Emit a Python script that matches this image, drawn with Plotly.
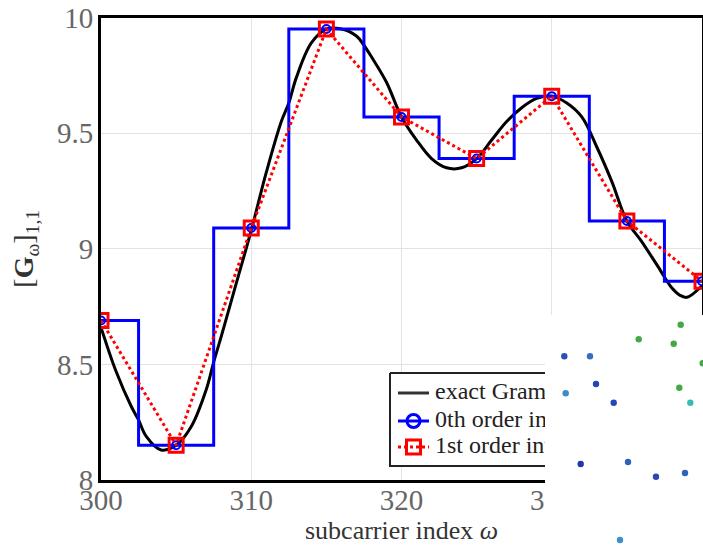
import plotly.graph_objects as go

# ---------------- data ----------------
# exact Gram matrix entry (dense reading of the smooth black curve)
exact_x = [300, 301, 302, 302.5, 303, 304, 305, 306, 307, 307.5, 308, 309, 310, 311, 312,
           312.5, 313, 314, 315, 316, 317, 317.5, 318, 319, 320, 321, 322, 323, 324, 325,
           326, 327, 328, 329, 330, 331, 332, 333, 334, 335, 336, 337, 338, 338.5, 339, 340]
exact_y = [8.66, 8.47, 8.32, 8.26, 8.19, 8.13, 8.15, 8.23, 8.39, 8.51, 8.62, 8.85, 9.08, 9.33, 9.55,
           9.63, 9.74, 9.89, 9.95, 9.95, 9.92, 9.88, 9.83, 9.72, 9.57, 9.47, 9.39, 9.35, 9.35, 9.39,
           9.47, 9.55, 9.61, 9.65, 9.66, 9.63, 9.57, 9.44, 9.29, 9.12, 9.03, 8.93, 8.83, 8.80, 8.79, 8.84]

# interpolation samples (every 5th subcarrier)
sample_x = [300, 305, 310, 315, 320, 325, 330, 335, 340]
sample_y = [8.69, 8.15, 9.09, 9.95, 9.57, 9.39, 9.66, 9.12, 8.86]

x_ticks = [300, 310, 320, 330]
y_ticks = [8, 8.5, 9, 9.5, 10]
y_tick_text = ["8", "8.5", "9", "9.5", "10"]

legend_names = ["exact Gram matrix", "0th order interpolation", "1st order interpolation"]

# foreign scatter patch that covers the lower right corner (pixel positions)
patch_dot_x = [680.7, 638.7, 673.7, 702.7, 564.3, 590.0, 596.0, 565.7, 613.7, 679.3, 690.3,
               580.7, 628.0, 656.0, 685.0, 620.0]
patch_dot_y = [324.7, 339.3, 343.7, 363.3, 356.3, 356.3, 384.0, 393.3, 402.7, 387.7, 402.7,
               464.0, 462.0, 476.7, 473.0, 540.0]
patch_dot_c = ["#44a84a", "#44a84a", "#44a84a", "#44a84a", "#2a50b4", "#3a6cc4", "#2346b0",
               "#3c8ccc", "#2648b2", "#44a84a", "#38bcb0", "#1f38a8", "#3060bc", "#2a48b0",
               "#3060bc", "#3a90cc"]

# ---------------- layout constants ----------------
W, H = 703, 549
PX_L, PX_R = 101, 702
PY_T, PY_B = 17.5, 480
SERIF = "Liberation Serif"

fig = go.Figure()

# main traces
fig.add_trace(go.Scatter(x=exact_x, y=exact_y, mode="lines",
                         line=dict(color="black", width=3, shape="spline", smoothing=1.0),
                         showlegend=False, name=legend_names[0]))
fig.add_trace(go.Scatter(x=sample_x, y=sample_y, mode="lines+markers",
                         line=dict(color="#0000ff", width=3, shape="hvh"),
                         marker=dict(symbol="circle-open", size=8, color="#0000ff",
                                     line=dict(width=2, color="#0000ff")),
                         showlegend=False, name=legend_names[1]))
fig.add_trace(go.Scatter(x=sample_x, y=sample_y, mode="lines+markers",
                         line=dict(color="#ff0000", width=3, dash="dot"),
                         marker=dict(symbol="square-open", size=14, color="#ff0000",
                                     line=dict(width=3, color="#ff0000")),
                         showlegend=False, name=legend_names[2]))

# ---------------- hand-made legend on a full-figure pixel overlay (screen pixels) ----------------
LX0, LX1, LY0, LY1 = 390, 640, 373, 466
rows_y = [393, 421, 447]
samp_x0, samp_x1, text_x = 398, 429, 435
ov = dict(xaxis="x2", yaxis="y2", showlegend=False, hoverinfo="skip")

fig.add_trace(go.Scatter(x=[LX0, LX1, LX1, LX0, LX0], y=[LY0, LY0, LY1, LY1, LY0],
                         mode="lines", fill="toself", fillcolor="white",
                         line=dict(color="#222222", width=2), **ov))
fig.add_trace(go.Scatter(x=[samp_x0, samp_x1], y=[rows_y[0]] * 2, mode="lines",
                         line=dict(color="#333333", width=3), **ov))
fig.add_trace(go.Scatter(x=[samp_x0, samp_x1], y=[rows_y[1]] * 2, mode="lines",
                         line=dict(color="#0000ff", width=3), **ov))
fig.add_trace(go.Scatter(x=[(samp_x0 + samp_x1) / 2], y=[rows_y[1]], mode="markers",
                         marker=dict(symbol="circle-open", size=13, color="#0000ff",
                                     line=dict(width=3, color="#0000ff")), **ov))
fig.add_trace(go.Scatter(x=[samp_x0, samp_x1], y=[rows_y[2]] * 2, mode="lines",
                         line=dict(color="#ff0000", width=3, dash="dot"), **ov))
fig.add_trace(go.Scatter(x=[(samp_x0 + samp_x1) / 2], y=[rows_y[2]], mode="markers",
                         marker=dict(symbol="square-open", size=14, color="#ff0000",
                                     line=dict(width=3, color="#ff0000")), **ov))
fig.add_trace(go.Scatter(x=[text_x] * 3, y=rows_y, mode="text", text=legend_names,
                         textposition="middle right",
                         textfont=dict(family=SERIF, size=24, color="#222222"), **ov))


def px_to_paper_x(p):
    return p / W


def px_to_paper_y(p):
    return 1 - p / H


# ---------------- covering patch (shapes above everything in the plot layer) ----------------
shapes = [dict(type="rect", xref="paper", yref="paper", layer="above",
               x0=px_to_paper_x(545), x1=px_to_paper_x(720),
               y0=px_to_paper_y(560), y1=px_to_paper_y(315),
               fillcolor="white", line=dict(width=0))]
r = 3.2
for px, py, c in zip(patch_dot_x, patch_dot_y, patch_dot_c):
    shapes.append(dict(type="circle", xref="paper", yref="paper", layer="above",
                       x0=px_to_paper_x(px - r), x1=px_to_paper_x(px + r),
                       y0=px_to_paper_y(py + r), y1=px_to_paper_y(py - r),
                       fillcolor=c, line=dict(width=0)))

fig.update_layout(
    width=W, height=H,
    margin=dict(l=0, r=0, t=0, b=0, autoexpand=False),
    paper_bgcolor="white", plot_bgcolor="rgba(0,0,0,0)",
    showlegend=False,
    font=dict(family=SERIF, color="#333333"),
    shapes=shapes,
    xaxis=dict(domain=[PX_L / W, PX_R / W], range=[300, 340], tickvals=x_ticks,
               ticks="", showgrid=True, gridcolor="#e3e3e3", gridwidth=1,
               showline=True, mirror=True, linecolor="black", linewidth=3,
               zeroline=False, automargin=False, ticklabelstandoff=-8,
               ticklabeloverflow="allow",
               tickfont=dict(family=SERIF, size=29, color="#666666"),
               title=dict(text="subcarrier index <i>ω</i>", standoff=5,
                          font=dict(family=SERIF, size=26, color="#333333"))),
    yaxis=dict(domain=[1 - PY_B / H, 1 - PY_T / H], range=[8, 10], tickvals=y_ticks,
               ticktext=y_tick_text, ticks="", showgrid=True, gridcolor="#e3e3e3",
               gridwidth=1, showline=True, mirror=True, linecolor="black", linewidth=3,
               zeroline=False, automargin=False, ticklabelstandoff=-1,
               ticklabeloverflow="allow",
               tickfont=dict(family=SERIF, size=29, color="#666666"),
               title=dict(text="[<b>G</b><sub>ω</sub>]<sub>1,1</sub>", standoff=16,
                          font=dict(family=SERIF, size=28, color="#333333"))),
    xaxis2=dict(domain=[0, 1], range=[0, W], visible=False, anchor="y2", fixedrange=True),
    yaxis2=dict(domain=[0, 1], range=[H, 0], visible=False, anchor="x2", fixedrange=True),
)

fig.write_html("out.html",
               config={"displayModeBar": False},
               post_script="document.body.style.margin='0px';"
                           "document.body.style.overflow='hidden';")
